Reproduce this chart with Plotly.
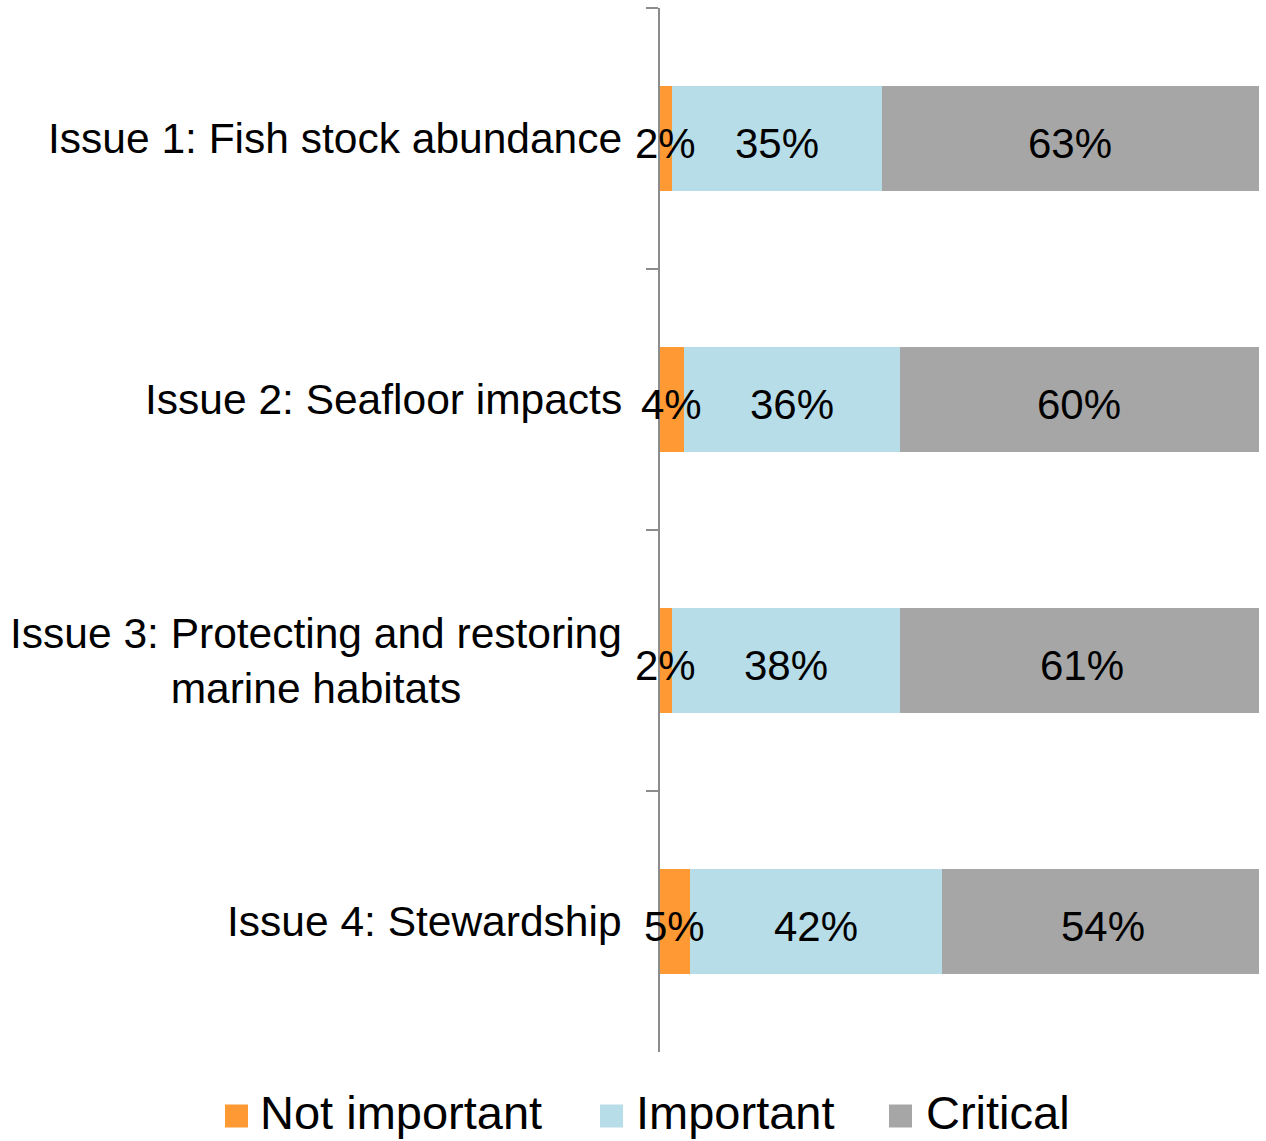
import plotly.graph_objects as go

# ---- data ----
categories = [
    "Issue 1: Fish stock abundance",
    "Issue 2: Seafloor impacts",
    "Issue 3: Protecting and restoring<br>marine habitats",
    "Issue 4: Stewardship",
]
series_names = ["Not important", "Important", "Critical"]
not_important = [2, 4, 2, 5]
important = [35, 36, 38, 42]
critical = [63, 60, 61, 54]
colors = ["#FF9933", "#B7DDE8", "#A6A6A6"]

series = [not_important, important, critical]

W, H = 1266, 1141
ML, MR, MT, MB = 660, 7, 8, 89
PW, PH = W - ML - MR, H - MT - MB
FONT = "Liberation Sans, Arial, sans-serif"


def px_x(px):
    return (px - ML) / PW


def px_y(py):
    return (H - MB - py) / PH


fig = go.Figure()

# stacked bars
for name, vals, col in zip(series_names, series, colors):
    fig.add_trace(go.Bar(
        y=categories, x=vals, name=name, orientation="h",
        marker=dict(color=col, line=dict(width=0)),
        showlegend=False, hoverinfo="x+name",
    ))

annotations = []

# value labels centred on each segment
for vals_idx, vals in enumerate(series):
    for i, c in enumerate(categories):
        start = sum(series[k][i] for k in range(vals_idx))
        annotations.append(dict(
            x=start + vals[i] / 2, xref="x", y=c, yref="y",
            xanchor="center", yanchor="middle", yshift=-5,
            text=f"{vals[i]}%", showarrow=False,
            font=dict(family=FONT, size=42, color="#000000"),
        ))

# category labels (centred multi-line, right-aligned to axis)
for c in categories:
    annotations.append(dict(
        x=0, xref="paper", y=c, yref="y", xanchor="right", yanchor="middle",
        xshift=-36, text=c, align="center", showarrow=False,
        font=dict(family=FONT, size=42.5, color="#000000"),
    ))

# manual legend
shapes = []
legend_sq_x = [225, 600, 889]
legend_txt_x = [259, 635, 925]
sq = 23
ly_sq = 1116
ly_txt = 1112
for name, col, sx, tx in zip(series_names, colors, legend_sq_x, legend_txt_x):
    shapes.append(dict(
        type="rect", xref="paper", yref="paper",
        x0=px_x(sx), x1=px_x(sx + sq), y0=px_y(ly_sq + sq / 2), y1=px_y(ly_sq - sq / 2),
        fillcolor=col, line=dict(width=0),
    ))
    annotations.append(dict(
        x=px_x(tx), xref="paper", y=px_y(ly_txt), yref="paper",
        xanchor="left", yanchor="middle", text=name, showarrow=False,
        borderpad=0,
        font=dict(family=FONT, size=47, color="#000000"),
    ))

fig.update_layout(
    width=W, height=H,
    margin=dict(l=ML, r=MR, t=MT, b=MB, pad=0),
    barmode="stack", bargap=0.6,
    plot_bgcolor="white", paper_bgcolor="white",
    font=dict(family=FONT, size=42, color="#000000"),
    xaxis=dict(range=[0, 100], visible=False, showgrid=False, zeroline=False),
    yaxis=dict(
        type="category", categoryorder="array", categoryarray=categories,
        autorange="reversed", showticklabels=False,
        showline=True, linecolor="#8C8C8C", linewidth=1.5,
        ticks="outside", tickson="boundaries", ticklen=12,
        tickcolor="#8C8C8C", tickwidth=1.5, showgrid=False, zeroline=False,
    ),
    annotations=annotations, shapes=shapes,
)

fig.write_html(
    "out.html",
    config={"displayModeBar": False},
    post_script="document.body.style.margin='0';document.body.style.overflow='hidden';",
)
